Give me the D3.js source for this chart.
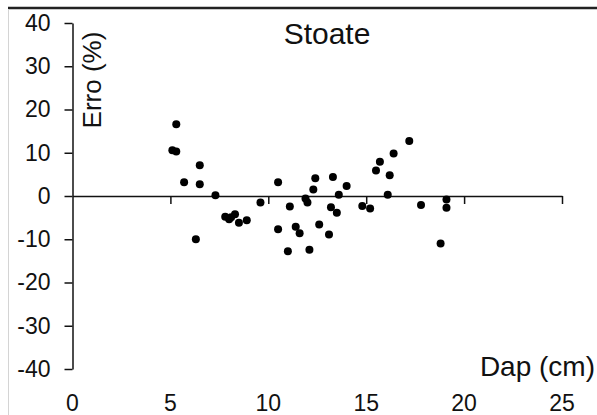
<!DOCTYPE html>
<html>
<head>
<meta charset="utf-8">
<script src="https://cdn.jsdelivr.net/npm/d3@7"></script>
<style>
  body { margin: 0; background: #fff; }
  text { font-family: Arial, 'Liberation Sans', sans-serif; fill: #111; }
</style>
</head>
<body>
<div class="scatter_chart"></div>
<script>
const title = 'Stoate'
const xLabel = 'Dap (cm)'
const yLabel = 'Erro (%)'
const xTicks = [0, 5, 10, 15, 20, 25]
const yTicks = [40, 30, 20, 10, 0, -10, -20, -30, -40]

// Dap (cm) and Erro (%)
const dap = [5.3, 5.1, 5.3, 6.5, 5.7, 6.5, 7.3, 6.3, 7.8, 8.0, 8.1, 8.3, 8.5, 8.9,
  9.6, 10.5, 10.5, 11.0, 11.1, 11.4, 11.6, 11.9, 12.0, 12.1, 12.3, 12.4, 12.6,
  13.1, 13.2, 13.3, 13.5, 13.6, 14.0, 14.8, 15.2, 15.5, 15.7, 16.2, 16.4, 16.1,
  17.2, 17.8, 19.1, 19.1, 18.8]
const erro = [16.6, 10.6, 10.3, 7.1, 3.2, 2.7, 0.2, -10.0, -4.8, -5.4, -4.9, -4.2,
  -6.2, -5.6, -1.5, 3.2, -7.7, -12.8, -2.4, -7.1, -8.6, -0.6, -1.5, -12.4, 1.5,
  4.1, -6.6, -8.9, -2.6, 4.4, -3.9, 0.3, 2.3, -2.3, -2.9, 5.9, 7.9, 4.8, 9.8, 0.3,
  12.7, -2.1, -0.8, -2.7, -11.0]

const drawChart = () => {
  const width = 597
  const height = 415
  const points = dap.map((d, i) => ({ dap: d, erro: erro[i] }))

  const x = d3.scaleLinear().domain([0, 25]).range([72.5, 562])
  const y = d3.scaleLinear().domain([-40, 40]).range([369, 23])

  const svg = d3.select('.scatter_chart').append('svg')
    .attr('width', width)
    .attr('height', height)

  // frame lines of the pasted picture
  svg.append('line')
    .attr('x1', 8).attr('x2', width).attr('y1', 8).attr('y2', 8)
    .attr('stroke', '#222').attr('stroke-width', 2.5)
  svg.append('line')
    .attr('x1', 8.5).attr('x2', 8.5).attr('y1', 9).attr('y2', height)
    .attr('stroke', '#d4d4d4').attr('stroke-width', 1)

  // y axis, labels with a plain hyphen like the original
  const yAxis = svg.append('g')
    .attr('transform', 'translate(' + x(0) + ',0)')
    .call(d3.axisLeft(y).tickValues(yTicks).tickSize(8).tickSizeOuter(0).tickPadding(14)
      .tickFormat((d) => String(d)))
  yAxis.select('.domain').attr('stroke', '#111').attr('stroke-width', 1.5)
  yAxis.selectAll('.tick line').attr('stroke', '#111').attr('stroke-width', 1.5)
  yAxis.selectAll('.tick text')
    .attr('font-size', 23)
    .attr('font-family', 'Arial, Liberation Sans, sans-serif')
    .attr('fill', '#111')

  // x axis on the zero line, tick marks only
  const xAxis = svg.append('g')
    .attr('transform', 'translate(0,' + y(0) + ')')
    .call(d3.axisBottom(x).tickValues(xTicks.slice(1)).tickSize(8).tickSizeOuter(0).tickFormat(''))
  xAxis.select('.domain').attr('stroke', '#111').attr('stroke-width', 1.5)
  xAxis.selectAll('.tick line').attr('stroke', '#111').attr('stroke-width', 1.5)

  // x tick labels sit under the plot
  svg.append('g').selectAll('text')
    .data(xTicks)
    .enter().append('text')
    .attr('x', (d) => x(d))
    .attr('y', 411)
    .attr('text-anchor', 'middle')
    .attr('font-size', 23)
    .text((d) => d)

  svg.append('g').selectAll('circle')
    .data(points)
    .enter().append('circle')
    .attr('cx', (d) => x(d.dap))
    .attr('cy', (d) => y(d.erro))
    .attr('r', 4)
    .attr('fill', '#000')

  svg.append('text')
    .attr('x', 327)
    .attr('y', 44)
    .attr('text-anchor', 'middle')
    .attr('font-size', 30)
    .text(title)

  svg.append('text')
    .attr('transform', 'translate(101,80) rotate(-90)')
    .attr('text-anchor', 'middle')
    .attr('font-size', 26)
    .text(yLabel)

  svg.append('text')
    .attr('x', 595)
    .attr('y', 376)
    .attr('text-anchor', 'end')
    .attr('font-size', 28)
    .text(xLabel)
}

drawChart()
</script>
</body>
</html>
